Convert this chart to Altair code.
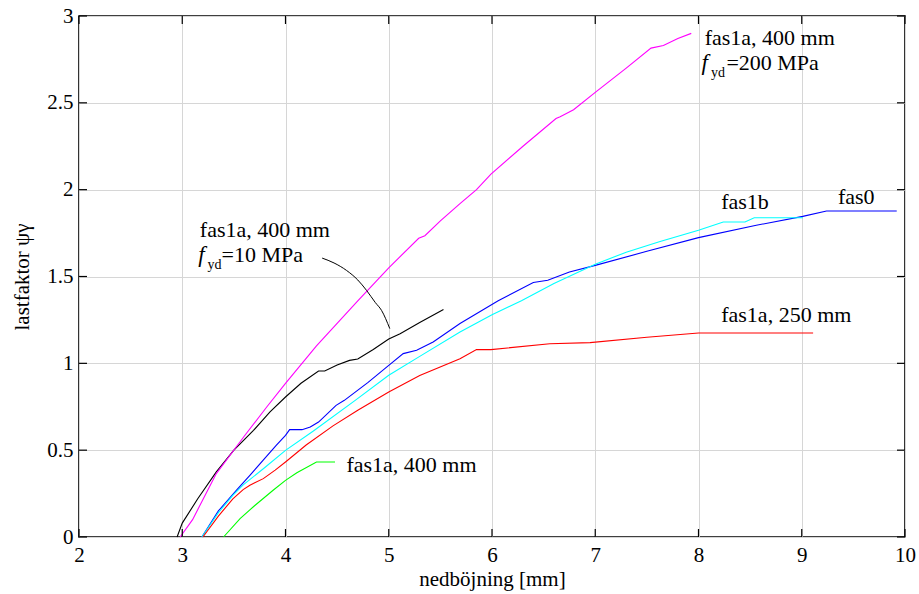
import altair as alt
import pandas as pd

# ---- data ----
black_x = [2.95, 3.0, 3.15, 3.33, 3.5, 3.69, 3.85, 4.0, 4.15, 4.32, 4.38, 4.5, 4.62, 4.7, 4.85, 5.0, 5.11, 5.3, 5.53]
black_y = [0.0, 0.08, 0.22, 0.375, 0.5, 0.614, 0.72, 0.806, 0.885, 0.956, 0.956, 0.99, 1.017, 1.025, 1.08, 1.14, 1.17, 1.235, 1.31]

magenta_x = [2.98, 3.1, 3.33, 3.6, 3.82, 4.0, 4.3, 4.7, 5.0, 5.29, 5.35, 5.5, 5.69, 5.85, 5.99, 6.3, 6.62, 6.66, 6.79, 7.0, 7.3, 7.54, 7.66, 7.8, 7.93]
magenta_y = [0.0, 0.1, 0.365, 0.58, 0.75, 0.885, 1.1, 1.36, 1.55, 1.72, 1.735, 1.82, 1.92, 2.0, 2.09, 2.25, 2.41, 2.42, 2.46, 2.56, 2.7, 2.815, 2.83, 2.87, 2.9]

blue_x = [3.19, 3.35, 3.53, 3.655, 3.78, 3.91, 4.0, 4.04, 4.16, 4.24, 4.32, 4.49, 4.57, 4.8, 5.0, 5.14, 5.27, 5.43, 5.69, 6.06, 6.4, 6.54, 6.75, 7.0, 7.5, 8.0, 8.56, 9.01, 9.24, 9.92]
blue_y = [0.0, 0.15, 0.273, 0.355, 0.44, 0.528, 0.585, 0.618, 0.618, 0.633, 0.662, 0.758, 0.787, 0.89, 0.988, 1.056, 1.075, 1.123, 1.229, 1.36, 1.465, 1.478, 1.526, 1.564, 1.645, 1.724, 1.795, 1.846, 1.877, 1.877]

cyan_x = [3.19, 3.35, 3.49, 3.59, 3.8, 4.0, 4.27, 4.675, 5.0, 5.3, 5.69, 6.0, 6.285, 6.6, 7.0, 7.3, 7.62, 8.0, 8.24, 8.45, 8.54, 9.01]
cyan_y = [0.0, 0.14, 0.24, 0.30, 0.40, 0.499, 0.61, 0.787, 0.931, 1.04, 1.18, 1.28, 1.36, 1.46, 1.57, 1.64, 1.70, 1.766, 1.814, 1.814, 1.838, 1.838]

red_x = [3.2, 3.35, 3.49, 3.59, 3.655, 3.785, 3.9, 4.0, 4.2, 4.46, 4.7, 5.0, 5.3, 5.69, 5.85, 5.99, 6.56, 6.95, 7.5, 8.0, 9.11]
red_y = [0.0, 0.12, 0.22, 0.273, 0.298, 0.336, 0.385, 0.432, 0.53, 0.64, 0.73, 0.835, 0.93, 1.027, 1.079, 1.079, 1.113, 1.119, 1.15, 1.175, 1.175]

green_x = [3.4, 3.56, 3.7, 3.88, 4.0, 4.11, 4.30, 4.48]
green_y = [0.0, 0.106, 0.18, 0.269, 0.326, 0.37, 0.432, 0.432]

# annotation arc for the fyd=10 MPa label
arc_x = [4.355, 4.47, 4.591, 4.70, 4.785, 4.87, 4.930, 5.010]
arc_y = [1.606, 1.578, 1.535, 1.48, 1.42, 1.35, 1.305, 1.200]

series_names = ["black", "magenta", "blue", "cyan", "red", "green"]
series_colors = ["#000000", "#ff00ff", "#0000ff", "#00ffff", "#ff0000", "#00ff00"]

# labels (normal text)
label_text = ["fas1a, 400 mm", "=200 MPa", "fas1a, 400 mm", "=10 MPa", "fas1b", "fas0", "fas1a, 250 mm", "fas1a, 400 mm"]
label_x = [8.06, 8.27, 3.17, 3.38, 8.22, 9.35, 8.22, 4.59]
label_y = [2.871, 2.727, 1.77, 1.622, 1.927, 1.955, 1.276, 0.417]
# italic f
f_x = [8.03, 3.155]
f_y = [2.727, 1.622]
# subscript yd
sub_x = [8.12, 3.245]
sub_y = [2.67, 1.564]

x_ticks = [2, 3, 4, 5, 6, 7, 8, 9, 10]
y_ticks = [0, 0.5, 1, 1.5, 2, 2.5, 3]

W, H = 826, 521
FONT = "Liberation Serif"

rows = []
for name, xs_, ys_ in [("black", black_x, black_y), ("magenta", magenta_x, magenta_y),
                       ("blue", blue_x, blue_y), ("cyan", cyan_x, cyan_y),
                       ("red", red_x, red_y), ("green", green_x, green_y)]:
    for i, (a, b) in enumerate(zip(xs_, ys_)):
        rows.append({"s": name, "x": a, "y": b, "o": i})
df = pd.DataFrame(rows)

xs = alt.Scale(domain=[2, 10], nice=False, zero=False)
ys = alt.Scale(domain=[0, 3], nice=False, zero=False)

base_x_axis = alt.Axis(values=x_ticks, grid=True, gridColor="#d6d6d6", gridWidth=1,
                       domain=False, ticks=False, labelFont=FONT, labelFontSize=21,
                       labelColor="black", labelPadding=7, title="nedböjning [mm]",
                       titleFont=FONT, titleFontSize=21, titleFontWeight="normal",
                       titleColor="black", titleBaseline="middle", titleY=42,
                       labelFlush=False, labelExpr="format(datum.value, '~g')")
base_y_axis = alt.Axis(values=y_ticks, grid=True, gridColor="#d6d6d6", gridWidth=1,
                       domain=False, ticks=False, labelFont=FONT, labelFontSize=21,
                       labelColor="black", labelPadding=6, title="lastfaktor ψγ",
                       titleFont=FONT, titleFontSize=21, titleFontWeight="normal",
                       titleColor="black", titlePadding=14, labelFlush=False,
                       labelExpr="format(datum.value, '~g')")

lines = alt.Chart(df).mark_line(strokeWidth=1.1).encode(
    x=alt.X("x:Q", scale=xs, axis=base_x_axis),
    y=alt.Y("y:Q", scale=ys, axis=base_y_axis),
    color=alt.Color("s:N", scale=alt.Scale(domain=series_names, range=series_colors), legend=None),
    order="o:Q",
)

arc = alt.Chart(pd.DataFrame({"x": arc_x, "y": arc_y, "o": list(range(len(arc_x)))})).mark_line(
    color="black", strokeWidth=1, interpolate="monotone").encode(
    x=alt.X("x:Q", scale=xs), y=alt.Y("y:Q", scale=ys), order="o:Q")

labels = alt.Chart(pd.DataFrame({"x": label_x, "y": label_y, "t": label_text})).mark_text(
    font=FONT, fontSize=22, align="left", baseline="middle", color="black").encode(
    x=alt.X("x:Q", scale=xs), y=alt.Y("y:Q", scale=ys), text="t:N")

f_labels = alt.Chart(pd.DataFrame({"x": f_x, "y": f_y, "t": ["f"] * len(f_x)})).mark_text(
    font=FONT, fontSize=23, fontStyle="italic", align="left", baseline="middle", color="black").encode(
    x=alt.X("x:Q", scale=xs), y=alt.Y("y:Q", scale=ys), text="t:N")

sub_labels = alt.Chart(pd.DataFrame({"x": sub_x, "y": sub_y, "t": ["yd"] * len(sub_x)})).mark_text(
    font=FONT, fontSize=14, align="left", baseline="middle", color="black").encode(
    x=alt.X("x:Q", scale=xs), y=alt.Y("y:Q", scale=ys), text="t:N")

# inward ticks on all four sides
xt = pd.DataFrame({"x": x_ticks})
yt = pd.DataFrame({"y": y_ticks})
tick_bottom = alt.Chart(xt).mark_rule(color="black", strokeWidth=1.2).encode(
    x=alt.X("x:Q", scale=xs), y=alt.value(H), y2=alt.value(H - 8))
tick_top = alt.Chart(xt).mark_rule(color="black", strokeWidth=1.2).encode(
    x=alt.X("x:Q", scale=xs), y=alt.value(0), y2=alt.value(8))
tick_left = alt.Chart(yt).mark_rule(color="black", strokeWidth=1.2).encode(
    y=alt.Y("y:Q", scale=ys), x=alt.value(0), x2=alt.value(8))
tick_right = alt.Chart(yt).mark_rule(color="black", strokeWidth=1.2).encode(
    y=alt.Y("y:Q", scale=ys), x=alt.value(W - 8), x2=alt.value(W))

chart = alt.layer(lines, arc, tick_bottom, tick_top, tick_left, tick_right,
                  labels, f_labels, sub_labels).properties(
    width=W, height=H,
    autosize=alt.AutoSizeParams(type="none"),
    padding={"left": 79, "top": 16, "right": 14, "bottom": 57},
    background="white",
).configure_view(stroke="black", strokeWidth=1.6)

chart.save("out.html", embed_options={"renderer": "svg", "actions": False})
